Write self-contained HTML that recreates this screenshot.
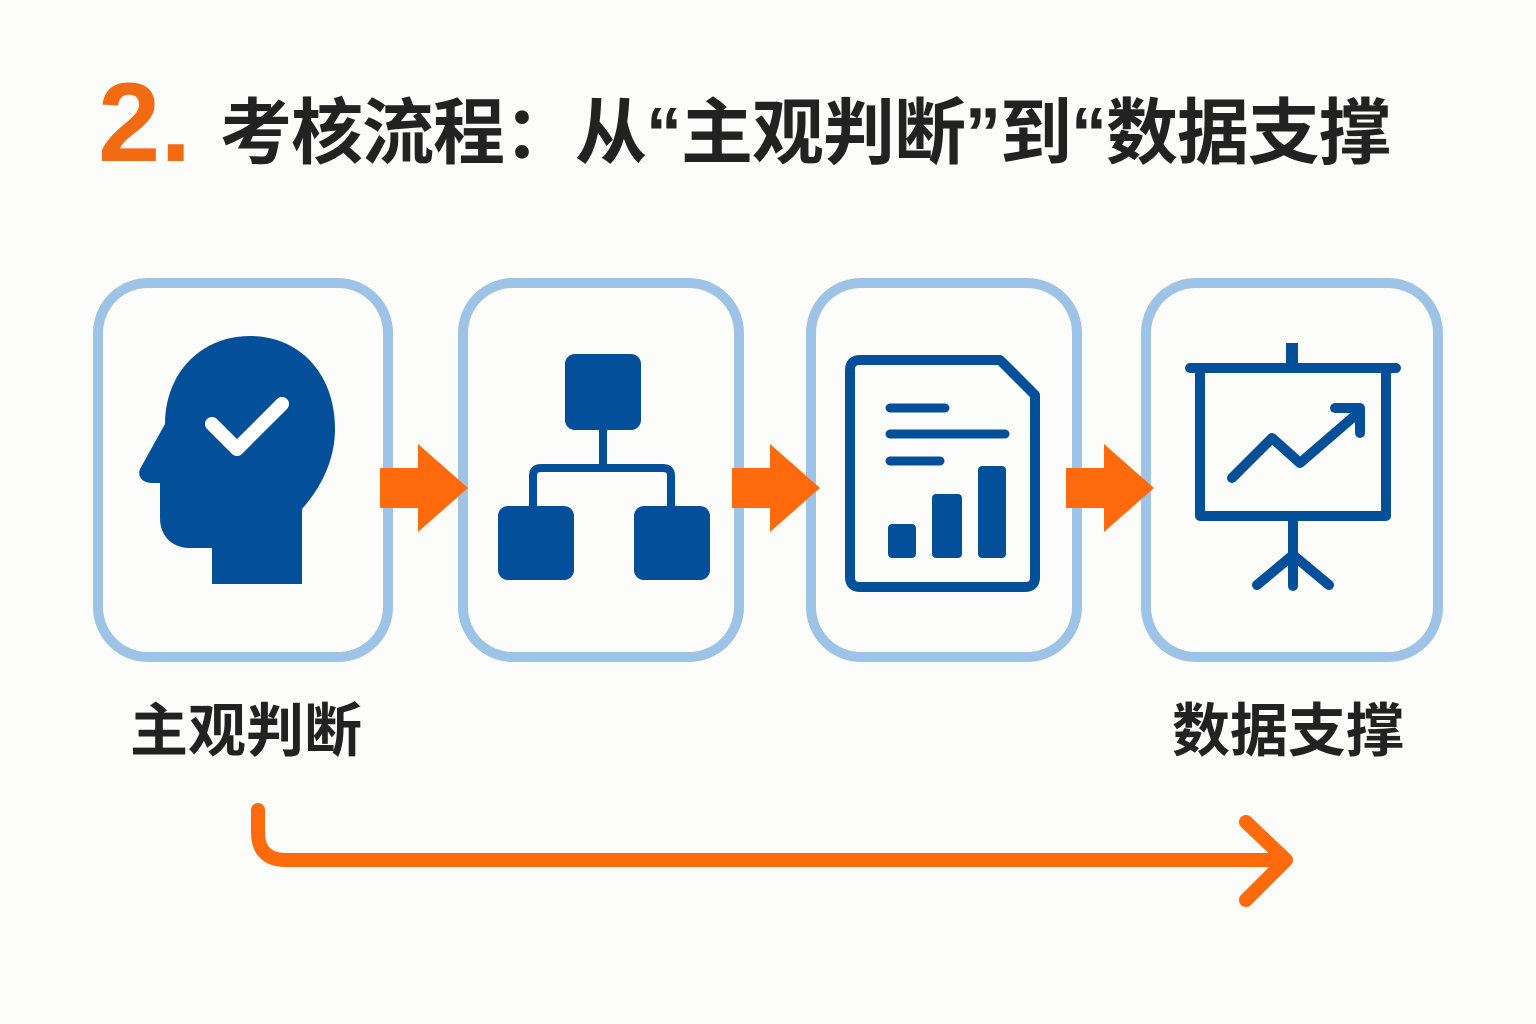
<!DOCTYPE html>
<html><head><meta charset="utf-8"><style>
body{margin:0;width:1536px;height:1024px;background:#fcfcfa;overflow:hidden;position:relative;font-family:"Liberation Sans","Noto Sans CJK SC",sans-serif}
.t{position:absolute;font-weight:bold;white-space:nowrap}
</style></head><body>
<div class="t" style="left:98px;top:58px;font-size:112px;color:#f26a12;font-family:'Liberation Sans',sans-serif">2.</div>
<div class="t" style="left:220px;top:74px;font-size:72px;color:#222;letter-spacing:-1px">考核流程：从“主观判断”到“数据支撑</div>
<div class="t" style="left:130px;top:684px;font-size:58px;color:#222">主观判断</div>
<div class="t" style="left:1172px;top:684px;font-size:58px;color:#222">数据支撑</div>
<svg width="1536" height="1024" style="position:absolute;left:0;top:0">
<g fill="none" stroke="#9dc3e6" stroke-width="10">
<rect x="98" y="283" width="290" height="374" rx="50"/>
<rect x="463" y="283" width="276" height="374" rx="50"/>
<rect x="811" y="283" width="266" height="374" rx="50"/>
<rect x="1146" y="283" width="292" height="374" rx="50"/>
</g>
<g fill="#ff6a0d">
<path d="M380 468h38v-24l50 44-50 44v-24h-38z"/>
<path d="M732 468h38v-24l50 44-50 44v-24h-38z"/>
<path d="M1066 468h38v-24l50 44-50 44v-24h-38z"/>
</g>
<g fill="#034f9a">
<path d="M250 336c-50 0-85 38-85 88l-25 45c-3 8 3 14 12 14h8v35c0 18 12 30 30 30h22v36h90v-75c18-20 33-48 33-80 0-55-35-93-85-93z"/>
<rect x="565" y="354" width="76" height="76" rx="10"/>
<rect x="498" y="506" width="76" height="74" rx="10"/>
<rect x="634" y="506" width="76" height="74" rx="10"/>
<rect x="888" y="524" width="28" height="34" rx="4"/>
<rect x="932" y="494" width="30" height="64" rx="4"/>
<rect x="978" y="466" width="28" height="92" rx="4"/>
<rect x="1286" y="343" width="12" height="20"/>
</g>
<path d="M212 424l25 25 45-45" fill="none" stroke="#fff" stroke-width="14" stroke-linecap="round" stroke-linejoin="round"/>
<g fill="none" stroke="#034f9a" stroke-width="10" stroke-linejoin="round" stroke-linecap="round">
<path d="M603 430v38M533 506v-30q0-8 8-8h122q8 0 8 8v30" stroke-width="8"/>
<path d="M860 360h140l35 35v182q0 10-10 10h-165q-10 0-10-10v-207q0-10 10-10z"/>
<path d="M890 408h55M890 434h115M890 461h50" stroke-width="9"/>
<path d="M1190 368h206"/>
<rect x="1200" y="368" width="186" height="148"/>
<path d="M1232 478l40-40 28 25 58-50M1335 408h25v25"/>
<path d="M1293 516v70M1293 555l-36 30M1293 555l36 30"/>
</g>
<g fill="none" stroke="#ff6a0d" stroke-width="14" stroke-linecap="round" stroke-linejoin="round">
<path d="M258 810v22q0 28 28 28h998"/>
<path d="M1246 822l40 38-40 40"/>
</g>
</svg>
</body></html>
